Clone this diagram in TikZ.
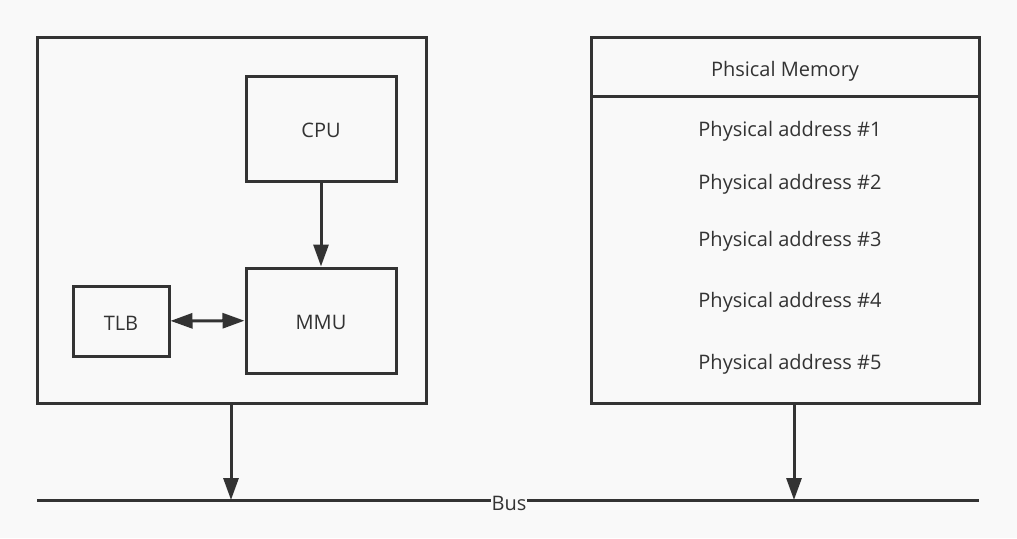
\documentclass[tikz,border=0pt]{standalone}
\usepackage{fontspec}
\setmainfont{Open Sans}
\usetikzlibrary{arrows.meta}
\usetikzlibrary{positioning}
\definecolor{mgray}{HTML}{333333}
\definecolor{mback}{HTML}{F9F9F9}
\tikzset{box/.style = {draw=mgray, line width=3pt, inner sep=0, text=mgray,
                       text height=18pt, text depth=0pt,
                       font=\fontsize{20}{24}\selectfont}}
\tikzset{addr/.style = {text=mgray, inner sep=1pt, font=\fontsize{20}{24}\selectfont}}
\tikzset{arr/.style = {draw=mgray, line width=3pt,
                       -{Triangle[length=22pt, width=15pt]}}}
\tikzset{dblarr/.style = {draw=mgray, line width=3pt,
                          {Triangle[length=22pt, width=15pt]}-{Triangle[length=22pt, width=15pt]}}}

\begin{document}
\begin{tikzpicture}[x=1pt, y=-1pt]
    \useasboundingbox [fill=mback] (0, 0) rectangle (1017, 538);

    % processor side
    \node [box, minimum width=389, minimum height=366] (chip) at (231.5, 220) {};
    \node [box, minimum width=150, minimum height=105] (cpu) at (321, 128.5) {CPU};
    \node [box, minimum width=150, minimum height=105] (mmu) at (321, 320.5) {MMU};
    \node [box, minimum width=96, minimum height=70] (tlb) at (121, 321) {TLB};
    \draw [arr] (cpu) -- (mmu);
    \draw [dblarr] (tlb) -- (mmu);

    % memory side
    \node [box, minimum width=388, minimum height=366] (mem) at (785, 220) {};
    \node [box, minimum width=388, minimum height=59] (memhead) at (785, 66.5) {};
    \node [addr] (memtitle) at (785, 71) {Phsical Memory};
    \node [addr] (addr1) at (790, 131) {Physical address \#1};
    \node [addr] (addr2) at (790, 184) {Physical address \#2};
    \node [addr] (addr3) at (790, 241) {Physical address \#3};
    \node [addr] (addr4) at (790, 302) {Physical address \#4};
    \node [addr] (addr5) at (790, 364) {Physical address \#5};

    % bus
    \coordinate (busl) at (37, 500);
    \coordinate (busr) at (979, 500);
    \coordinate (chipdown) at (231, 500);
    \coordinate (memdown) at (794, 500);
    \draw [mgray, line width=3pt] (busl) -- (busr);
    \node [addr, fill=mback] (bus) at (509, 503) {Bus};
    \draw [arr] (chip.south -| chipdown) -- (chipdown);
    \draw [arr] (mem.south -| memdown) -- (memdown);
\end{tikzpicture}
\end{document}
